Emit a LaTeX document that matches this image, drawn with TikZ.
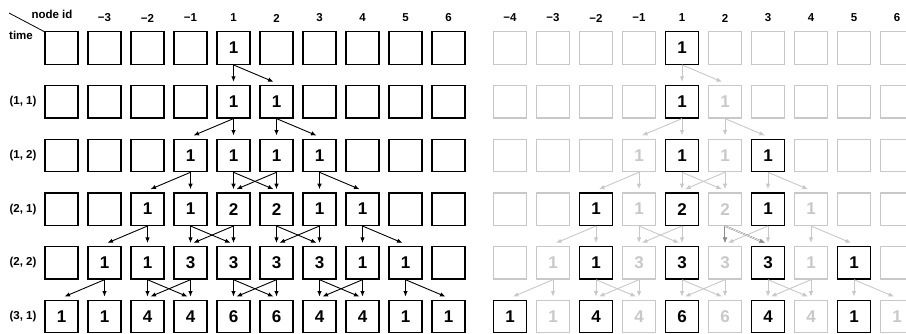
\documentclass[tikz,border=0pt]{standalone}
\usepackage{fontspec}
\setmainfont{Liberation Sans}
\usetikzlibrary{calc,arrows.meta}
\definecolor{lgray}{RGB}{200,200,200}
\definecolor{mgray}{RGB}{140,140,140}
\tikzset{
  kb/.style={draw=black, line width=1.3pt, minimum width=33pt, minimum height=32.5pt, inner sep=0pt,
    font=\fontsize{17}{17}\selectfont\bfseries, text=black},
  gb/.style={kb, draw=lgray, text=lgray},
  arr/.style={-{Latex[length=5.5pt,width=4.5pt]}, line width=0.9pt, draw=black},
  garr/.style={arr, draw=lgray},
  darr/.style={-{Latex[length=5.5pt,width=4.5pt]}, line width=0.5pt, draw=mgray, double=white, double distance=0.6pt},
  lab/.style={font=\fontsize{11.5}{12}\selectfont\bfseries, inner sep=0pt},
  hdline/.style={line width=0.8pt, draw=black}
}
\begin{document}
\begin{tikzpicture}[x=1pt,y=-1pt]
\useasboundingbox (0,0) rectangle (906,333);
\clip (0,0) rectangle (906,333);
% header
\node[lab] (nodeid) at (52,14) {node id};
\node[lab] (time) at (21,35) {time};
\coordinate (d1) at (9,13);
\coordinate (d2) at (45,32);
\draw[hdline] (d1) -- (d2);
% column labels
\foreach \t [count=\i from 1] in {−3,−2,−1,1,2,3,4,5,6}
  \node[lab] (LC-\i) at ({61.5+43*\i},18) {\t};
\foreach \t [count=\i from 0] in {−4,−3,−2,−1,1,2,3,4,5,6}
  \node[lab] (RC-\i) at ({510+43*\i},18) {\t};
% row labels
\foreach \t [count=\r from 1] in {{(1, 1)},{(1, 2)},{(2, 1)},{(2, 2)},{(3, 1)}}
  \node[lab] (RL-\r) at (23,{48+53.7*\r}) {\t};
% left panel boxes
\foreach \v [count=\i from 0] in {{},{},{},{},1,{},{},{},{},{}}
  \node[kb] (L-0-\i) at ({61.5+43*\i},{48+53.7*0}) {\v};
\foreach \v [count=\i from 0] in {{},{},{},{},1,1,{},{},{},{}}
  \node[kb] (L-1-\i) at ({61.5+43*\i},{48+53.7*1}) {\v};
\foreach \v [count=\i from 0] in {{},{},{},1,1,1,1,{},{},{}}
  \node[kb] (L-2-\i) at ({61.5+43*\i},{48+53.7*2}) {\v};
\foreach \v [count=\i from 0] in {{},{},1,1,2,2,1,1,{},{}}
  \node[kb] (L-3-\i) at ({61.5+43*\i},{48+53.7*3}) {\v};
\foreach \v [count=\i from 0] in {{},1,1,3,3,3,3,1,1,{}}
  \node[kb] (L-4-\i) at ({61.5+43*\i},{48+53.7*4}) {\v};
\foreach \v [count=\i from 0] in {1,1,4,4,6,6,4,4,1,1}
  \node[kb] (L-5-\i) at ({61.5+43*\i},{48+53.7*5}) {\v};
% right panel boxes
\foreach \s/\v [count=\i from 0] in {gb/{},gb/{},gb/{},gb/{},kb/1,gb/{},gb/{},gb/{},gb/{},gb/{}}
  \node[\s] (R-0-\i) at ({510+43*\i},{48+53.7*0}) {\v};
\foreach \s/\v [count=\i from 0] in {gb/{},gb/{},gb/{},gb/{},kb/1,gb/1,gb/{},gb/{},gb/{},gb/{}}
  \node[\s] (R-1-\i) at ({510+43*\i},{48+53.7*1}) {\v};
\foreach \s/\v [count=\i from 0] in {gb/{},gb/{},gb/{},gb/1,kb/1,gb/1,kb/1,gb/{},gb/{},gb/{}}
  \node[\s] (R-2-\i) at ({510+43*\i},{48+53.7*2}) {\v};
\foreach \s/\v [count=\i from 0] in {gb/{},gb/{},kb/1,gb/1,kb/2,gb/2,kb/1,gb/1,gb/{},gb/{}}
  \node[\s] (R-3-\i) at ({510+43*\i},{48+53.7*3}) {\v};
\foreach \s/\v [count=\i from 0] in {gb/{},gb/1,kb/1,gb/3,kb/3,gb/3,kb/3,gb/1,kb/1,gb/{}}
  \node[\s] (R-4-\i) at ({510+43*\i},{48+53.7*4}) {\v};
\foreach \s/\v [count=\i from 0] in {kb/1,gb/1,kb/4,gb/4,kb/6,gb/6,kb/4,gb/4,kb/1,gb/1}
  \node[\s] (R-5-\i) at ({510+43*\i},{48+53.7*5}) {\v};
% arrows
\foreach \r/\s/\t in {0/4/4,0/4/5,
  1/4/3,1/4/4,1/5/5,1/5/6,
  2/3/2,2/3/3,2/4/4,2/4/5,2/5/4,2/5/5,2/6/6,2/6/7,
  3/2/1,3/2/2,3/3/3,3/3/4,3/4/3,3/4/4,3/5/5,3/5/6,3/6/5,3/6/6,3/7/7,3/7/8,
  4/1/0,4/1/1,4/2/2,4/2/3,4/3/2,4/3/3,4/4/4,4/4/5,4/5/4,4/5/5,4/6/6,4/6/7,4/7/6,4/7/7,4/8/8,4/8/9}{
  \pgfmathtruncatemacro{\rn}{\r+1}
  \draw[arr] (L-\r-\s.south) -- ($(L-\rn-\t.north)+({3*(\s-\t)},-3)$);
  \draw[garr] (R-\r-\s.south) -- ($(R-\rn-\t.north)+({3*(\s-\t)},-3)$);
}
\foreach \s/\t in {5/5,5/6}
  \draw[darr] (R-3-\s.south) -- ($(R-4-\t.north)+({3*(\s-\t)},-3)$);
\end{tikzpicture}
\end{document}
